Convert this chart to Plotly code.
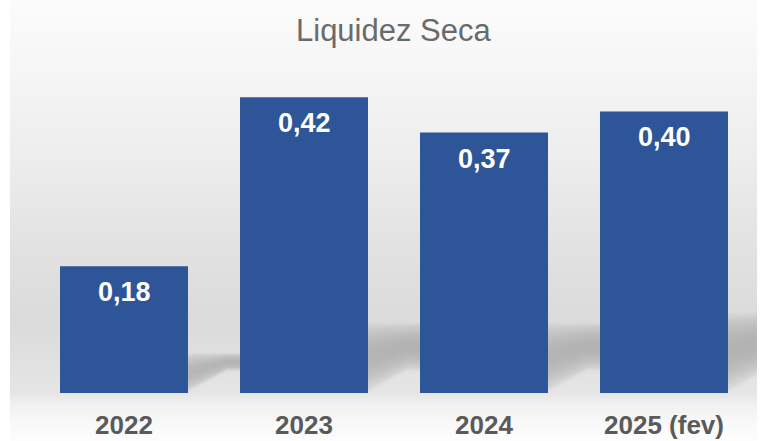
import base64, struct, zlib
import numpy as np
import plotly.graph_objects as go

categories = ["2022", "2023", "2024", "2025 (fev)"]
values = [0.18, 0.42, 0.37, 0.40]
labels = ["0,18", "0,42", "0,37", "0,40"]
title_text = "Liquidez Seca"

W, H = 768, 441
ML, MR, MT, MB = 34, 14, 41, 48
YMAX = 0.5
BARGAP = 0.289
BAR_COLOR = "#2E5597"

# ---------- background decoration (gradient + floor shadows) ----------
def png_data_uri(arr):
    h, w = arr.shape[:2]
    raw = b"".join(b"\x00" + arr[r].tobytes() for r in range(h))
    def chunk(t, d):
        c = struct.pack(">I", len(d)) + t + d
        return c + struct.pack(">I", zlib.crc32(t + d) & 0xffffffff)
    png = b"\x89PNG\r\n\x1a\n" + chunk(b"IHDR", struct.pack(">IIBBBBB", w, h, 8, 2, 0, 0, 0)) \
        + chunk(b"IDAT", zlib.compress(raw, 9)) + chunk(b"IEND", b"")
    return "data:image/png;base64," + base64.b64encode(png).decode()

ys = np.arange(H)
base = np.interp(ys, [0, 60, 150, 250, 320, 393, 405, 425, 441],
                     [252, 247, 238, 226, 219, 230, 242, 250, 254])
g = np.tile(base[:, None], (1, W)).astype(float)

plot_w = W - ML - MR
plot_h = H - MT - MB
step = plot_w / len(categories)
bw = step * (1 - BARGAP)
y0 = H - MB
for i, v in enumerate(values):
    xr = ML + step * (i + 0.5) + bw / 2
    xnext = ML + step * (i + 1.5) - bw / 2 if i < len(values) - 1 else W - 11
    top = 322 if v > 0.3 else 352
    if i == len(values) - 1:
        top = 312
    for x in range(int(xr), int(min(xnext, W - 11))):
        dx = x - xr
        bot = max(y0 - dx * 0.55, 372)
        for y in range(int(top), int(y0)):
            if y > bot:
                continue
            t = (y - top) / max(bot - top, 1)
            dark = 44 * np.sin(np.pi * min(max(t, 0), 1)) ** 0.8
            fade = min(1.0, (bot - y) / 6 + 0.2)
            g[y, x] -= dark * fade
g[:, :10] = 255
g[:, W - 11:] = 255
img = np.clip(g, 0, 255).astype(np.uint8)
rgb = np.stack([img, img, img], axis=2)
bg_uri = png_data_uri(rgb)

fig = go.Figure()
fig.add_trace(go.Bar(
    x=categories, y=values,
    marker=dict(color=BAR_COLOR, line=dict(width=0)),
    hoverinfo="skip",
))
for i, (v, lab) in enumerate(zip(values, labels)):
    fig.add_annotation(x=i, y=v, text="<b>%s</b>" % lab, showarrow=False, yanchor="middle",
                       yshift=-26, font=dict(family="Liberation Sans", size=27, color="white"),
                       xref="x", yref="y")
fig.add_annotation(x=0.5, y=1 + (MT - 30) / plot_h, xref="paper", yref="paper", text=title_text,
                   showarrow=False, xanchor="center", yanchor="middle",
                   font=dict(family="Liberation Sans", size=31, color="#6a6a6a"))
fig.add_layout_image(dict(source=bg_uri, xref="paper", yref="paper",
                          x=-ML / plot_w, y=1 + MT / plot_h,
                          sizex=W / plot_w, sizey=H / plot_h,
                          xanchor="left", yanchor="top", sizing="stretch", layer="below"))
fig.update_layout(
    width=W, height=H,
    margin=dict(l=ML, r=MR, t=MT, b=MB, pad=0, autoexpand=False),
    paper_bgcolor="white", plot_bgcolor="rgba(0,0,0,0)",
    bargap=BARGAP, showlegend=False,
    xaxis=dict(type="category", showgrid=False, showline=False, zeroline=False,
               ticks="outside", ticklen=9, tickcolor="rgba(0,0,0,0)", tickangle=0,
               automargin=False, range=[-0.5, len(categories) - 0.5],
               tickvals=list(range(len(categories))),
               ticktext=["<b>%s</b>" % c for c in categories],
               tickfont=dict(family="Liberation Sans", size=26, color="#5a5a5a")),
    yaxis=dict(range=[0, YMAX], visible=False, showgrid=False, zeroline=False),
)
fig.write_html("out.html", config={"displayModeBar": False, "staticPlot": True})
with open("out.html", encoding="utf-8") as f:
    html = f.read()
html = html.replace("<head>", "<head><style>html,body{margin:0;padding:0;overflow:hidden}</style>", 1)
with open("out.html", "w", encoding="utf-8") as f:
    f.write(html)
